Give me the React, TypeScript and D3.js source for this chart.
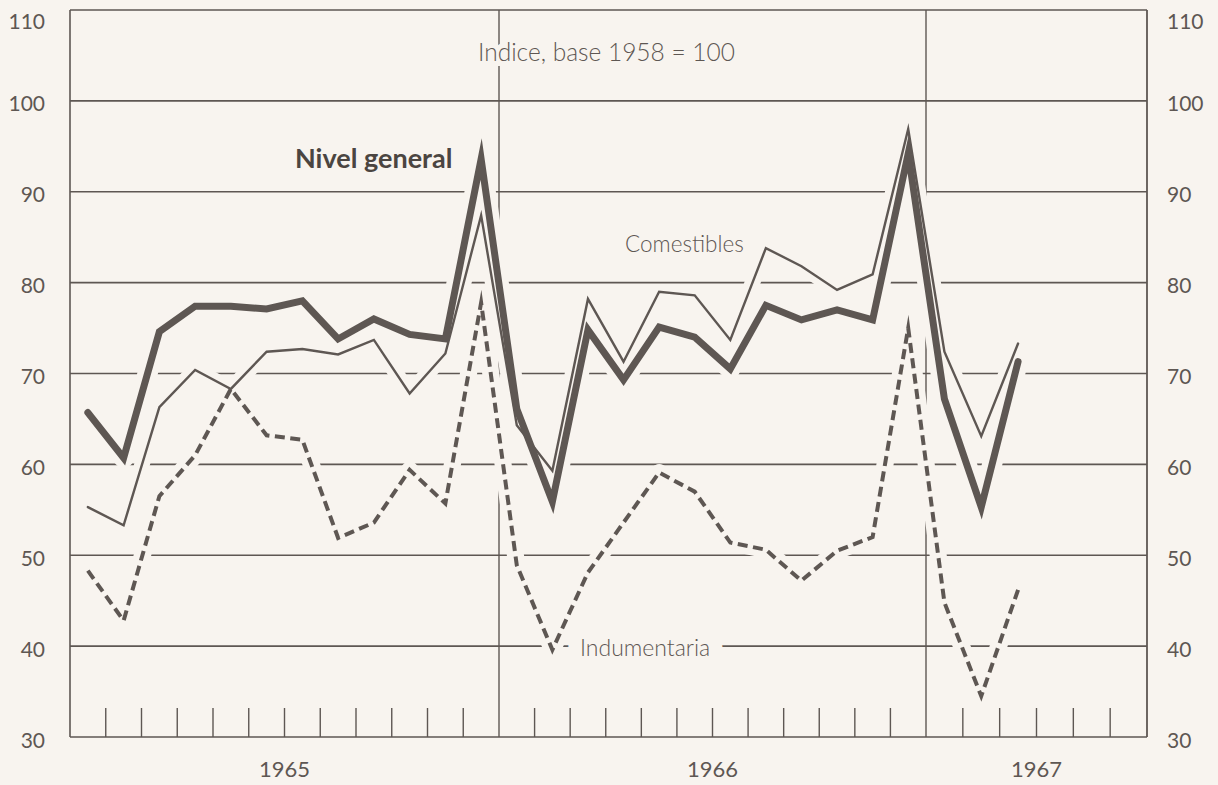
import React from 'react'
import * as d3 from 'd3'

// Monthly indices, Jan 1965 .. Mar 1967 (index 0 = Jan 1965)
const nivelGeneral = [65.7, 60.7, 74.6, 77.4, 77.4, 77.1, 78.0, 73.8, 76.0, 74.3, 73.8, 93.6, 66.1, 55.9, 74.8, 69.3, 75.1, 74.0, 70.5, 77.5, 75.9, 77.0, 75.9, 94.2, 67.2, 55.3, 71.3]
const comestibles = [55.3, 53.3, 66.3, 70.4, 68.3, 72.4, 72.7, 72.1, 73.7, 67.8, 72.2, 87.4, 64.3, 59.3, 78.2, 71.3, 79.0, 78.6, 73.7, 83.8, 81.8, 79.2, 80.9, 96.9, 72.4, 63.1, 73.3]
const indumentaria = [48.3, 42.8, 56.5, 61.0, 68.3, 63.2, 62.7, 51.9, 53.6, 59.4, 55.7, 77.8, 48.9, 39.6, 48.1, 53.6, 59.1, 57.0, 51.4, 50.6, 47.2, 50.5, 52.0, 75.0, 44.8, 34.5, 46.2]

const years = ['1965', '1966', '1967']
const yearStart = [0, 12, 24]
const yearEnd = [12, 24, 30]
const yTicks = [30, 40, 50, 60, 70, 80, 90, 100, 110]

const BG = '#f8f4ef'
const INK = '#5e5753'
const FONT = 'Lato, "Open Sans", sans-serif'

export default function App() {
  const width = 1218
  const height = 785
  // the printed month grid is slightly uneven, so the year boundaries are pinned
  const x = d3.scaleLinear().domain([0, 12, 24, 30]).range([70, 499, 926, 1147])
  const y = d3.scaleLinear().domain([30, 110]).range([737, 10])
  const mid = (i: number) => x(i + 0.5)
  const path = (vals: number[]) => d3.line<number>().x((_, i) => mid(i)).y((d) => y(d))(vals) ?? ''

  const series = [
    { vals: indumentaria, w: 4, dash: '10 5.5', cap: 'butt' },
    { vals: comestibles, w: 2.4, dash: undefined, cap: 'round' },
    { vals: nivelGeneral, w: 7, dash: undefined, cap: 'round' },
  ]
  const monthTicks = d3.range(1, 30).filter((m) => m % 12 !== 0)
  const [x0, x1] = [x(0), x(30)]

  return (
    <div style={{ position: 'fixed', inset: 0, background: BG }}>
      <svg width={width} height={height} style={{ display: 'block' }} fontFamily={FONT}>
        <rect width={width} height={height} fill={BG} />
        {/* grid */}
        {yTicks.map((t) => (
          <line key={t} x1={x0} x2={x1} y1={y(t)} y2={y(t)} stroke={INK} strokeWidth={1.6} />
        ))}
        <line x1={x0} x2={x0} y1={y(110)} y2={y(30)} stroke={INK} strokeWidth={1.6} />
        <line x1={x1} x2={x1} y1={y(110)} y2={y(30)} stroke={INK} strokeWidth={1.8} />
        {[12, 24].map((m) => (
          <line key={m} x1={x(m)} x2={x(m)} y1={y(110)} y2={y(30)} stroke={INK} strokeWidth={1.4} />
        ))}
        {monthTicks.map((m) => (
          <line key={m} x1={x(m)} x2={x(m)} y1={y(30)} y2={y(30) - 29} stroke={INK} strokeWidth={1.4} />
        ))}
        {/* axis labels */}
        {yTicks.map((t) => (
          <g key={t} fontSize={21} fill={INK} dominantBaseline="central">
            <text x={45} y={y(t) + (t === 110 ? 10 : 2)} textAnchor="end">{t}</text>
            <text x={1167} y={y(t) + (t === 110 ? 10 : 2)}>{t}</text>
          </g>
        ))}
        {years.map((yr, i) => (
          <text key={yr} x={(x(yearStart[i]) + x(yearEnd[i])) / 2} y={777} textAnchor="middle" fontSize={22} fill={INK}>
            {yr}
          </text>
        ))}
        {/* halos cut the grid where the curves cross it */}
        {series.map((s, i) => (
          <path key={'h' + i} d={path(s.vals)} fill="none" stroke={BG} strokeWidth={s.w + 13} strokeLinejoin="round" strokeLinecap="round" />
        ))}
        {series.map((s, i) => (
          <path
            key={'s' + i}
            d={path(s.vals)}
            fill="none"
            stroke={INK}
            strokeWidth={s.w}
            strokeDasharray={s.dash}
            strokeLinejoin="miter"
            strokeMiterlimit={12}
            strokeLinecap={s.cap as 'butt' | 'round'}
          />
        ))}
        {/* labels */}
        <text x={478} y={61} fontSize={24.5} fill={INK} stroke={BG} strokeWidth={10} paintOrder="stroke" fontWeight={300}>
          Indice, base 1958 = 100
        </text>
        <text x={295} y={168} fontSize={27} fontWeight={700} fill="#4b4541">
          Nivel general
        </text>
        <text x={625} y={252} fontSize={22.5} fontWeight={300} fill={INK}>
          Comestibles
        </text>
        <text x={580} y={656} fontSize={23} fontWeight={300} fill={INK} stroke={BG} strokeWidth={28} paintOrder="stroke">
          Indumentaria
        </text>
      </svg>
    </div>
  )
}
